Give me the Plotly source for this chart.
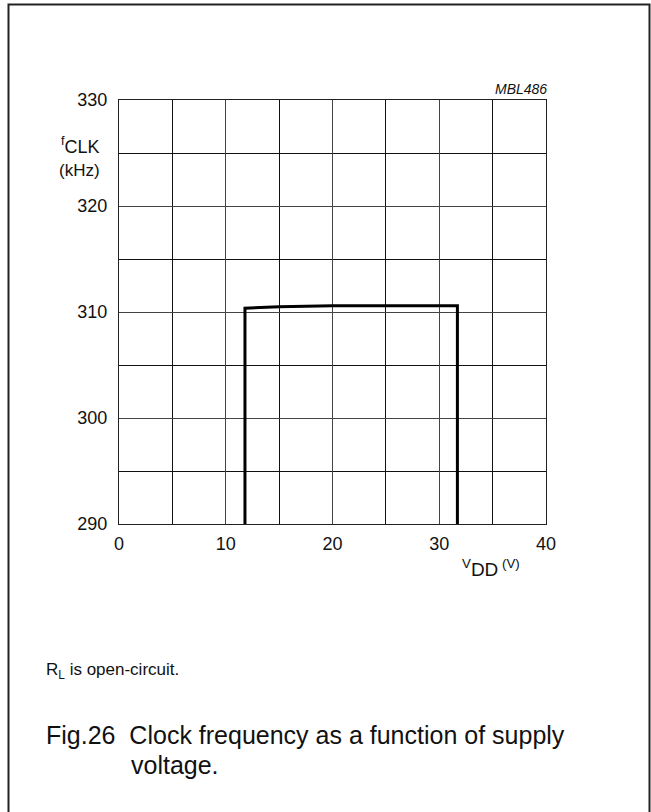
import plotly.graph_objects as go

# Data
vdd = [11.8, 11.8, 15, 20, 25, 31.7, 31.7]
fclk = [290, 310.35, 310.5, 310.6, 310.6, 310.6, 290]
x_ticks = [0, 10, 20, 30, 40]
y_ticks = [290, 300, 310, 320, 330]

W, H = 651, 812
L, R, T, B = 119, 546, 100, 524
pw, ph = R - L, B - T

def px(x):
    return (x - L) / pw

def py(y):
    return (B - y) / ph

FONT = "Liberation Sans, Arial, sans-serif"

fig = go.Figure()
fig.add_trace(go.Scatter(x=vdd, y=fclk, mode="lines",
                         line=dict(color="black", width=3),
                         showlegend=False, hoverinfo="skip"))

axis_common = dict(showline=True, linecolor="#222", linewidth=1, mirror=True,
                   showgrid=True, gridcolor="#444", gridwidth=1,
                   zeroline=False, ticks="",
                   tickfont=dict(family=FONT, size=18, color="#111"),
                   minor=dict(showgrid=True, gridcolor="#111", gridwidth=1, dtick=5))

fig.update_xaxes(range=[0, 40], tickvals=x_ticks, ticktext=[str(v) for v in x_ticks],
                 ticklabelstandoff=3, **axis_common)
fig.update_yaxes(range=[290, 330], tickvals=y_ticks, ticktext=[str(v) for v in y_ticks],
                 ticklabelstandoff=7, **axis_common)

anns = [
    dict(x=px(80), y=py(145), text="<sup>f</sup>CLK", font=dict(size=18)),
    dict(x=px(79), y=py(170), text="(kHz)", font=dict(size=17)),
    dict(x=px(549), y=py(89), text="<i>MBL486</i>", font=dict(size=14), xanchor="right"),
    dict(x=px(491), y=py(568), text="<sup>V</sup>DD<sup> (V)</sup>", font=dict(size=19)),
    dict(x=px(44), y=py(671), text="R<sub>L</sub> is open-circuit.", font=dict(size=17), xanchor="left"),
    dict(x=px(44), y=py(735), text="Fig.26  Clock frequency as a function of supply", font=dict(size=25), xanchor="left"),
    dict(x=px(129), y=py(765), text="voltage.", font=dict(size=25), xanchor="left"),
]
for a in anns:
    a.update(xref="paper", yref="paper", showarrow=False)
    a.setdefault("xanchor", "center")
    a["yanchor"] = "middle"
    a["font"].update(family=FONT, color="#111")
    fig.add_annotation(**a)

fig.add_shape(type="rect", xref="paper", yref="paper",
              x0=px(8.5), x1=px(649.5), y0=py(4.5), y1=py(830),
              line=dict(color="#222", width=2), fillcolor="rgba(0,0,0,0)", layer="above")

fig.update_layout(width=W, height=H, margin=dict(l=L, r=W - R, t=T, b=H - B),
                  paper_bgcolor="white", plot_bgcolor="white",
                  font=dict(family=FONT, color="#111"))

fig.write_html("out.html")
